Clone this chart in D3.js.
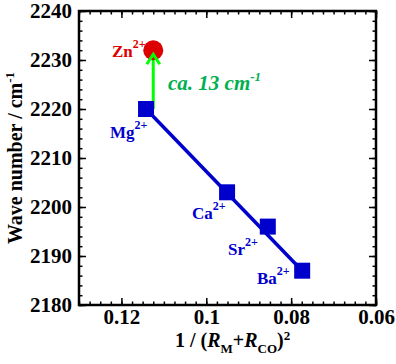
<!DOCTYPE html>
<meta charset="utf-8">
<style>
    body { margin: 0; background: #fff; }
    svg text { font-family: "Liberation Serif", "Times New Roman", serif; font-weight: bold; }
    .tick text { font-size: 21px; fill: #000; }
    .frame { fill: none; stroke: #000; stroke-width: 2.5px; }
</style>
<svg width="396" height="364"></svg>
<script src="https://cdn.jsdelivr.net/npm/d3@7"></script>
<script>

    // blue series: alkaline earth ions
    var ions = ["Mg", "Ca", "Sr", "Ba"];
    var invR2 = [0.1142, 0.0951, 0.0855, 0.0774];
    var waveNum = [2220, 2203, 2196, 2187];

    // zinc point
    var znX = 0.1125, znY = 2232;

    var xTicks = [0.12, 0.1, 0.08, 0.06];
    var yTicks = [2180, 2190, 2200, 2210, 2220, 2230, 2240];

    var svg = d3.select("svg"),
        pL = 79, pR = 376, pT = 11, pB = 305;

    var x = d3.scaleLinear().domain([0.13, 0.06]).range([pL, pR]);
    var y = d3.scaleLinear().domain([2180, 2240]).range([pB, pT]);

    var xMinor = d3.range(0, 29).map(function(i) { return 0.06 + i * 0.0025; });
    var yMinor = d3.range(0, 31).map(function(i) { return 2180 + i * 2; });

    function cleanAxis(g) {
        g.select(".domain").remove();
        g.selectAll(".tick line").attr("stroke", "#000").attr("stroke-width", 1.5);
    }

    // minor ticks, all four sides
    svg.append("g").attr("transform", "translate(0," + pB + ")")
        .call(d3.axisBottom(x).tickValues(xMinor).tickSize(-3.5).tickFormat("")).call(cleanAxis);
    svg.append("g").attr("transform", "translate(0," + pT + ")")
        .call(d3.axisTop(x).tickValues(xMinor).tickSize(-3.5).tickFormat("")).call(cleanAxis);
    svg.append("g").attr("transform", "translate(" + pL + ",0)")
        .call(d3.axisLeft(y).tickValues(yMinor).tickSize(-3.5).tickFormat("")).call(cleanAxis);
    svg.append("g").attr("transform", "translate(" + pR + ",0)")
        .call(d3.axisRight(y).tickValues(yMinor).tickSize(-3.5).tickFormat("")).call(cleanAxis);

    // major ticks
    svg.append("g").attr("transform", "translate(0," + pB + ")")
        .call(d3.axisBottom(x).tickValues(xTicks).tickSize(-7).tickFormat(String))
        .call(cleanAxis)
        .selectAll(".tick text").attr("dy", null).attr("y", 19);
    svg.append("g").attr("transform", "translate(0," + pT + ")")
        .call(d3.axisTop(x).tickValues(xTicks).tickSize(-7).tickFormat("")).call(cleanAxis);
    svg.append("g").attr("transform", "translate(" + pL + ",0)")
        .call(d3.axisLeft(y).tickValues(yTicks).tickSize(-7).tickFormat(String))
        .call(cleanAxis)
        .selectAll(".tick text").attr("x", -7);
    svg.append("g").attr("transform", "translate(" + pR + ",0)")
        .call(d3.axisRight(y).tickValues(yTicks).tickSize(-7).tickFormat("")).call(cleanAxis);

    svg.append("rect").attr("class", "frame")
        .attr("x", pL).attr("y", pT)
        .attr("width", pR - pL).attr("height", pB - pT);

    // axis titles
    var yt = svg.append("text")
        .attr("transform", "translate(22," + ((pT + pB) / 2) + ") rotate(-90)")
        .attr("text-anchor", "middle")
        .style("font-size", "20px");
    yt.append("tspan").text("Wave number / cm");
    yt.append("tspan").attr("dy", -8).style("font-size", "13px").text("-1");

    var xt = svg.append("text")
        .attr("x", 175).attr("y", 347)
        .style("font-size", "20px");
    xt.append("tspan").text("1 / (");
    xt.append("tspan").style("font-style", "italic").text("R");
    xt.append("tspan").attr("dy", 6).style("font-size", "13px").text("M");
    xt.append("tspan").attr("dy", -6).text("+");
    xt.append("tspan").style("font-style", "italic").text("R");
    xt.append("tspan").attr("dy", 6).style("font-size", "13px").text("CO");
    xt.append("tspan").attr("dy", -6).text(")");
    xt.append("tspan").attr("dy", -7).style("font-size", "13px").text("2");

    var blue = "#0000cc";
    var pts = ions.map(function(d, i) { return { ion: d, x: invR2[i], y: waveNum[i] }; });

    // trend line
    svg.append("line")
        .attr("x1", x(pts[0].x)).attr("y1", y(pts[0].y))
        .attr("x2", x(pts[pts.length - 1].x)).attr("y2", y(pts[pts.length - 1].y))
        .attr("stroke", blue).attr("stroke-width", 3.5);

    // arrow Mg -> Zn
    var ax = x(znX);
    svg.append("line")
        .attr("x1", ax).attr("y1", y(waveNum[0]))
        .attr("x2", ax).attr("y2", y(znY) + 5)
        .attr("stroke", "#00ff00").attr("stroke-width", 3);

    svg.append("circle")
        .attr("cx", x(znX)).attr("cy", y(znY)).attr("r", 10)
        .attr("fill", "#dd0000");

    svg.append("path")
        .attr("d", "M" + (ax - 6.5) + "," + (y(znY) + 14) + "L" + ax + "," + (y(znY) + 4) + "L" + (ax + 6.5) + "," + (y(znY) + 14))
        .attr("fill", "none").attr("stroke", "#00ff00").attr("stroke-width", 3);

    svg.selectAll(".sq").data(pts).enter().append("rect")
        .attr("class", "sq")
        .attr("x", function(d) { return x(d.x) - 8; })
        .attr("y", function(d) { return y(d.y) - 8; })
        .attr("width", 16).attr("height", 16)
        .attr("fill", blue);

    // ion labels
    var labelPos = [[110, 138], [192, 219], [228, 255], [257, 284]];
    pts.forEach(function(d, i) {
        var t = svg.append("text")
            .attr("x", labelPos[i][0]).attr("y", labelPos[i][1])
            .attr("fill", blue).style("font-size", "17px");
        t.append("tspan").text(d.ion);
        t.append("tspan").attr("dy", -9).style("font-size", "12px").text("2+");
    });

    var zt = svg.append("text")
        .attr("x", 112).attr("y", 57)
        .attr("fill", "#dd0000").style("font-size", "17px");
    zt.append("tspan").text("Zn");
    zt.append("tspan").attr("dy", -9).style("font-size", "12px").text("2+");

    var ct = svg.append("text")
        .attr("x", 168).attr("y", 90)
        .attr("fill", "#00b050")
        .style("font-size", "21px").style("font-style", "italic");
    ct.append("tspan").text("ca. 13 cm");
    ct.append("tspan").attr("dy", -9).style("font-size", "13px").text("-1");

</script>
